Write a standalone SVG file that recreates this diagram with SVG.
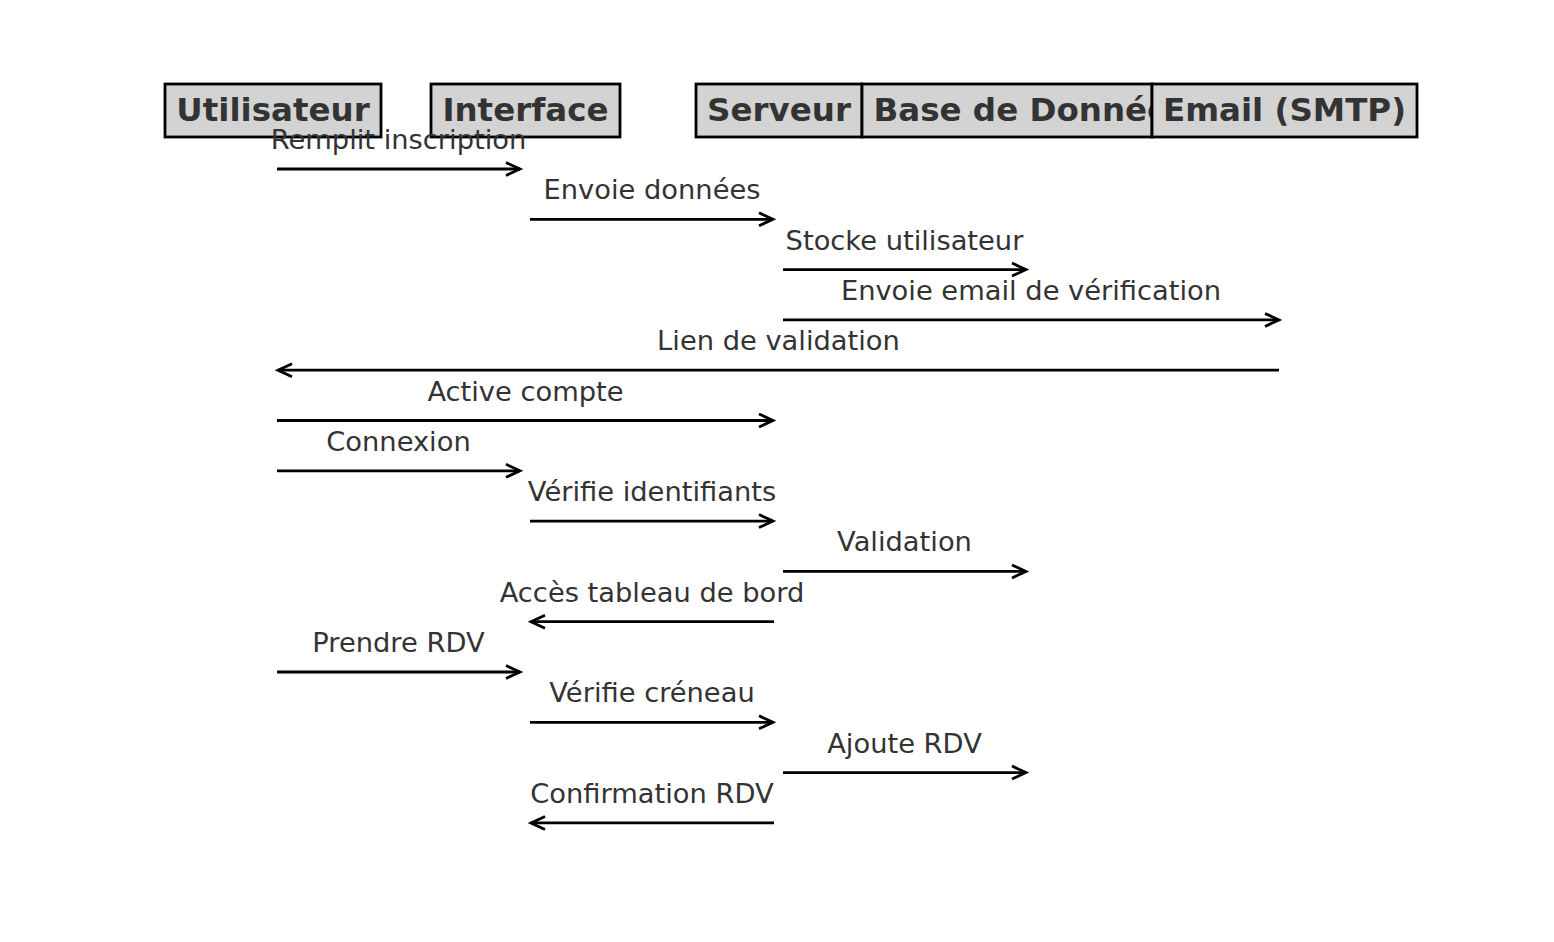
<svg xmlns="http://www.w3.org/2000/svg" width="1554" height="942" viewBox="0 0 1554 942">
<defs>
<style>
.box{fill:#d3d3d3;stroke:#000;stroke-width:2.8}
.hdr{font-family:"DejaVu Sans",sans-serif;font-weight:bold;font-size:32.5px;fill:#333333;text-anchor:middle}
.lbl{font-family:"DejaVu Sans",sans-serif;font-size:27.3px;fill:#333333;text-anchor:middle}
.msg{stroke:#000;stroke-width:2.8;fill:none;marker-end:url(#ah)}
</style>
<marker id="ah" markerUnits="userSpaceOnUse" markerWidth="20" markerHeight="20" viewBox="-2 -2 20 20" refX="14" refY="6.5" orient="auto">
<path d="M0,0 L14,6.5 L0,13" fill="none" stroke="#000" stroke-width="2.8" stroke-linejoin="miter"/>
</marker>
</defs>
<rect width="1554" height="942" fill="#fff"/>
<g id="node-utilisateur"><rect class="box" x="165" y="84" width="216" height="53"/><text class="hdr" x="273" y="121">Utilisateur</text></g>
<g id="node-interface"><rect class="box" x="431" y="84" width="189" height="53"/><text class="hdr" x="525.5" y="121">Interface</text></g>
<g id="node-serveur"><rect class="box" x="696" y="84" width="166" height="53"/><text class="hdr" x="779" y="121">Serveur</text></g>
<g id="node-bdd"><rect class="box" x="862" y="84" width="290" height="53"/><text class="hdr" x="1031" y="121">Base de Données</text></g>
<g id="node-email"><rect class="box" x="1152" y="84" width="265" height="53"/><text class="hdr" x="1284.5" y="121">Email (SMTP)</text></g>
<g id="connectors">
<line class="msg" x1="277" y1="169" x2="520" y2="169"/>
<text class="lbl" x="398.5" y="149">Remplit inscription</text>
<line class="msg" x1="530" y1="219.3" x2="773" y2="219.3"/>
<text class="lbl" x="652" y="199.3">Envoie données</text>
<line class="msg" x1="783" y1="269.6" x2="1026" y2="269.6"/>
<text class="lbl" x="904.5" y="249.6">Stocke utilisateur</text>
<line class="msg" x1="783" y1="319.9" x2="1279" y2="319.9"/>
<text class="lbl" x="1031" y="299.9">Envoie email de vérification</text>
<line class="msg" x1="1279" y1="370.2" x2="278" y2="370.2"/>
<text class="lbl" x="778.5" y="350.2">Lien de validation</text>
<line class="msg" x1="277" y1="420.5" x2="773" y2="420.5"/>
<text class="lbl" x="525.5" y="400.5">Active compte</text>
<line class="msg" x1="277" y1="470.8" x2="520" y2="470.8"/>
<text class="lbl" x="398.5" y="450.8">Connexion</text>
<line class="msg" x1="530" y1="521.1" x2="773" y2="521.1"/>
<text class="lbl" x="652" y="501.1">Vérifie identifiants</text>
<line class="msg" x1="783" y1="571.4" x2="1026" y2="571.4"/>
<text class="lbl" x="904.5" y="551.4">Validation</text>
<line class="msg" x1="774" y1="621.7" x2="531" y2="621.7"/>
<text class="lbl" x="652" y="601.7">Accès tableau de bord</text>
<line class="msg" x1="277" y1="672" x2="520" y2="672"/>
<text class="lbl" x="398.5" y="652">Prendre RDV</text>
<line class="msg" x1="530" y1="722.3" x2="773" y2="722.3"/>
<text class="lbl" x="652" y="702.3">Vérifie créneau</text>
<line class="msg" x1="783" y1="772.6" x2="1026" y2="772.6"/>
<text class="lbl" x="904.5" y="752.6">Ajoute RDV</text>
<line class="msg" x1="774" y1="822.9" x2="531" y2="822.9"/>
<text class="lbl" x="652" y="802.9">Confirmation RDV</text>
</g>
</svg>
